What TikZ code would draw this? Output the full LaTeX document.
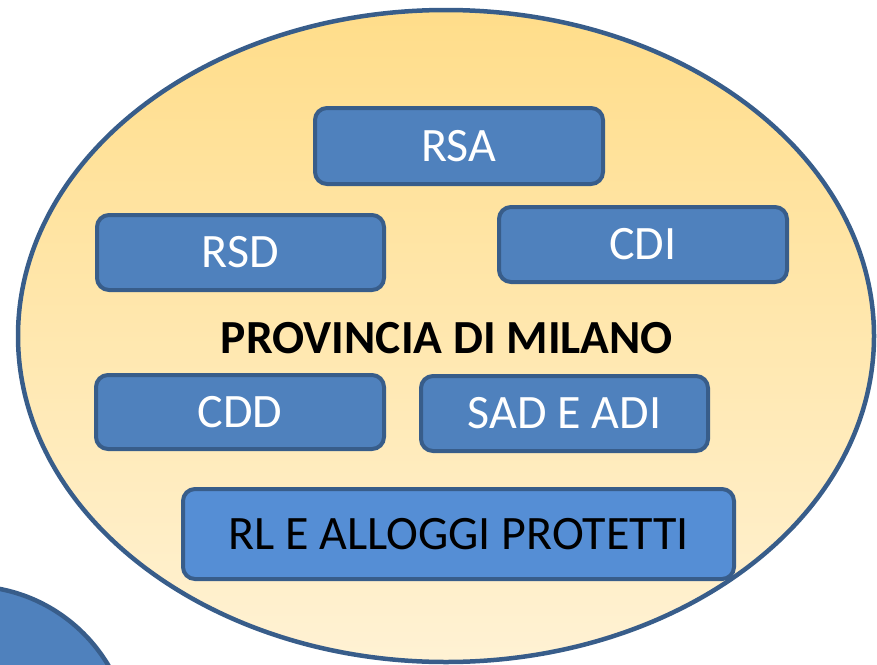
\documentclass[tikz,border=0pt]{standalone}
\usepackage{fontspec}
\setmainfont{Carlito}
\definecolor{boxfill}{HTML}{4F81BD}
\definecolor{boxedge}{HTML}{385D8A}
\definecolor{rlfill}{HTML}{558ED5}
\definecolor{goldtop}{RGB}{255,221,138}
\definecolor{goldbot}{RGB}{255,242,212}
\tikzset{
  unitbox/.style={rectangle, rounded corners=12pt, fill=boxfill, draw=boxedge, line width=4pt, text=white, inner sep=0pt, font=\fontsize{48}{48}\selectfont},
  outline/.style={draw=boxedge, line width=4.5pt}
}
\begin{document}
\begin{tikzpicture}[x=1pt,y=-1pt]
\useasboundingbox (0,0) rectangle (877,664);
\clip (0,0) rectangle (877,664);
% blue circle bottom-left
\path[fill=boxfill, outline] (-31,748) circle (162);
% big ellipse
\path[top color=goldtop, bottom color=goldbot, outline] (446,336) ellipse [x radius=428, y radius=326];
% boxes
\node[unitbox, minimum width=288pt, minimum height=76pt] (rsa) at (459,146) {RSA};
\node[unitbox, minimum width=287pt, minimum height=75pt] (rsd) at (240.5,252.5) {RSD};
\node[unitbox, minimum width=288pt, minimum height=75pt] (cdi) at (643,244.5) {CDI};
\node[unitbox, minimum width=288pt, minimum height=74pt] (cdd) at (240,412) {CDD};
\node[unitbox, minimum width=287pt, minimum height=75pt] (sad) at (564.5,413.5) {SAD E ADI};
\node[unitbox, fill=rlfill, text=black, minimum width=551pt, minimum height=90pt] (rl) at (458.5,534) {RL E ALLOGGI PROTETTI};
\node (prov) at (447,338) {\fontsize{47.5}{47.5}\selectfont\bfseries PROVINCIA DI MILANO};
\end{tikzpicture}
\end{document}
